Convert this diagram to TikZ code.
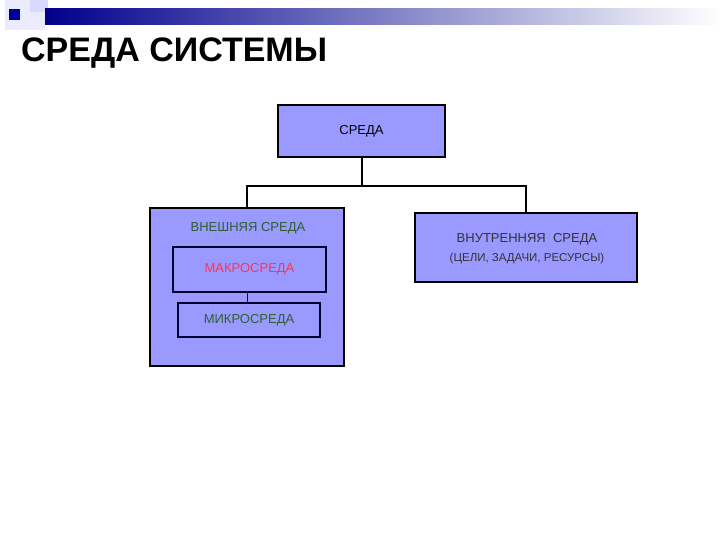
\documentclass[tikz,border=0pt]{standalone}
\usepackage{fontspec}
\setmainfont{Liberation Sans}
\begin{document}
\begin{tikzpicture}[x=1pt,y=-1pt,
  bx/.style={draw=black,line width=2pt,fill=boxfill},
  ibx/.style={draw=black!80!blue,line width=1.6pt},
  lbl/.style={font=\fontsize{13}{15}\selectfont}]
\definecolor{boxfill}{HTML}{9999FF}
\definecolor{dgreen}{HTML}{2F5F2F}
\definecolor{pinkred}{HTML}{FF3355}
\useasboundingbox (0,0) rectangle (720,540);
% decoration
\fill[blue!8] (5,0) rectangle (45,30);
\fill[blue!15] (30,0) rectangle (48,12);
\shade[left color=blue!55!black,right color=white] (45,9) rectangle (720,25);
\fill[blue!60!black] (9,9) rectangle (20,20);
\node[anchor=base west,inner sep=0,font=\bfseries\fontsize{34}{38}\selectfont] (title) at (21,62) {СРЕДА СИСТЕМЫ};
% boxes
\node[bx,minimum width=167,minimum height=52,inner sep=0,lbl] (top) at (361.5,131) {СРЕДА};
\node[bx,minimum width=194,minimum height=158,inner sep=0] (ext) at (247,287) {};
\node[bx,minimum width=222,minimum height=69,inner sep=0] (int) at (526,247.5) {};
\node[lbl,text=dgreen] (extl) at (248,228) {ВНЕШНЯЯ СРЕДА};
\node[ibx,minimum width=153,minimum height=45,inner sep=0,lbl,text=pinkred] (macro) at (249.5,269.5) {МАКРОСРЕДА};
\node[ibx,minimum width=142,minimum height=34,inner sep=0,lbl,text=dgreen] (micro) at (249,320) {МИКРОСРЕДА};
\node[lbl,text=black!80] (intl) at (527,239) {ВНУТРЕННЯЯ\ \ СРЕДА};
\node[font=\fontsize{11.5}{13}\selectfont,text=black!80] (intl2) at (527,259) {(ЦЕЛИ, ЗАДАЧИ, РЕСУРСЫ)};
% connectors
\coordinate (j) at (361.5,186);
\draw[line width=2pt] (top.south) -- (j);
\draw[line width=2pt] (ext.north -| 247,0) |- (j) -| (int.north);
\draw[blue!70!black,line width=1pt] (macro.south -| 247,0) -- (micro.north -| 247,0);
\end{tikzpicture}
\end{document}
